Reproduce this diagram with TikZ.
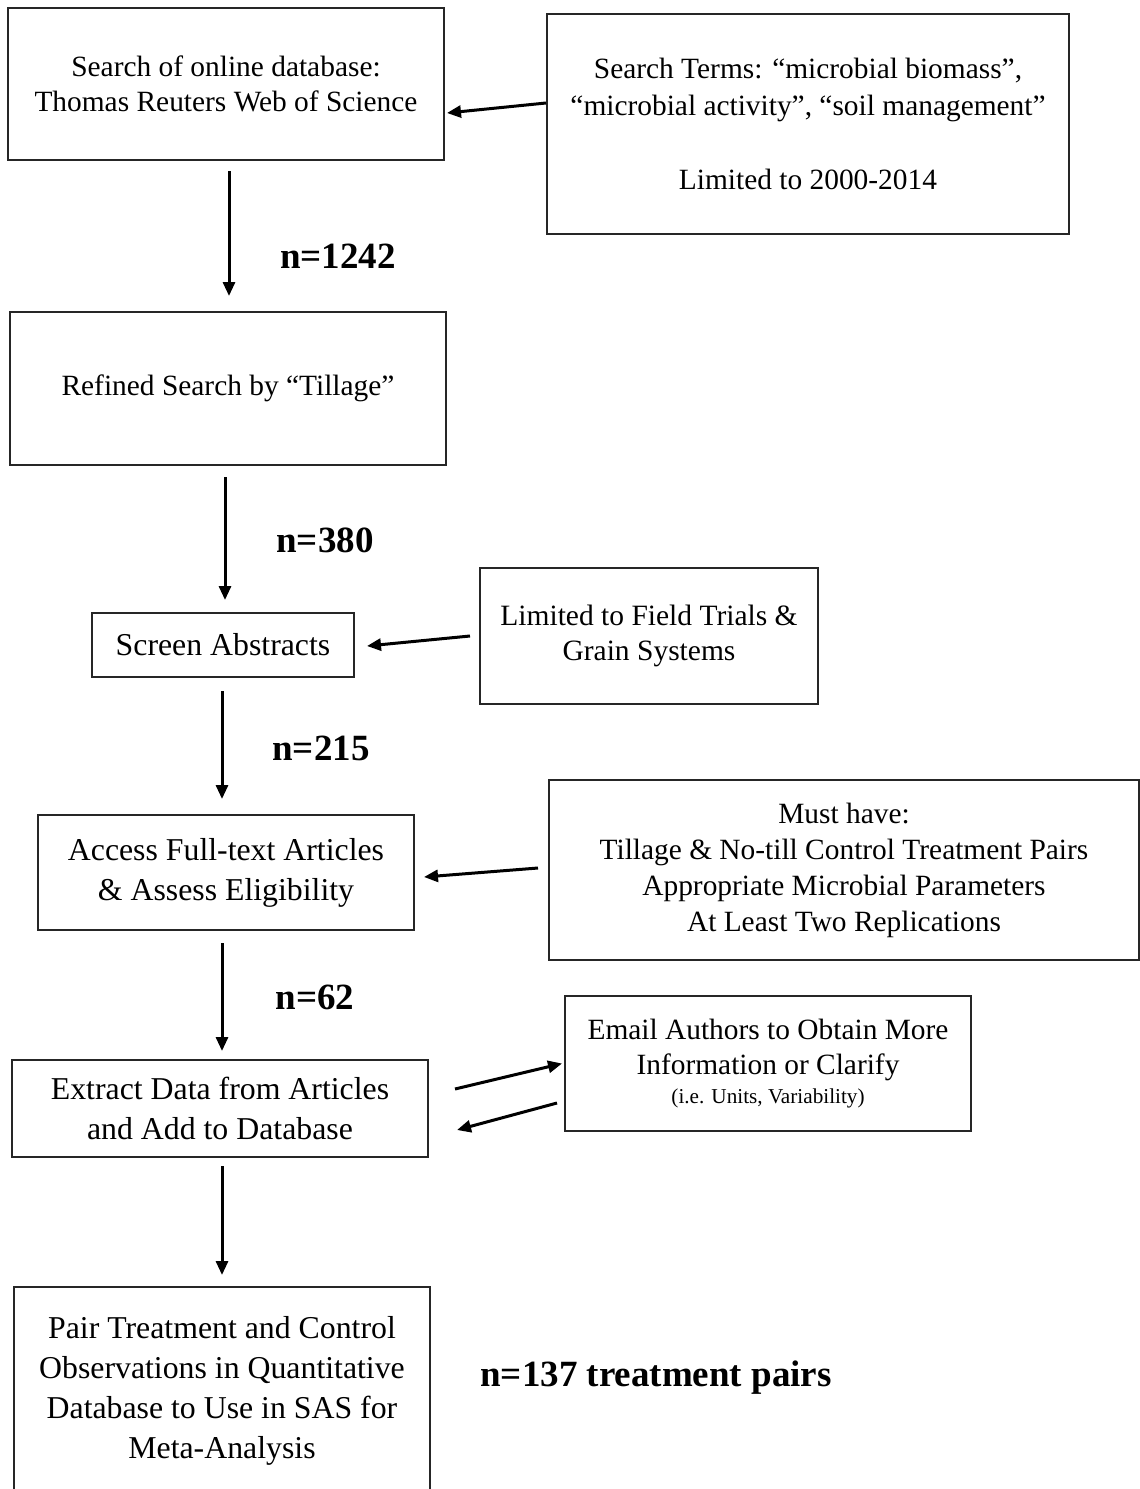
\documentclass[tikz,border=0pt]{standalone}
\usepackage{fontspec}
\setmainfont{Liberation Serif}
\usetikzlibrary{arrows.meta,calc}
\begin{document}
\begin{tikzpicture}[x=0.5pt,y=-0.5pt,
  box/.style={draw=black!85,line width=1pt,align=center,inner sep=0pt},
  ta/.style={font=\fontsize{14.7}{17.5}\selectfont},
  tb/.style={font=\fontsize{15.9}{20}\selectfont},
  arr/.style={line width=1.5pt,-{Triangle[length=7pt,width=6pt]}},
  lbl/.style={font=\fontsize{18.5}{21}\selectfont\bfseries,inner sep=0pt}]
\useasboundingbox (0,0) rectangle (1140,1489);
\clip (0,0) rectangle (1140,1489);
\node[box,ta,minimum width=218pt,minimum height=76pt] (A) at (226,84)
  {Search of online database:\\Thomas Reuters Web of Science};
\node[box,minimum width=261pt,minimum height=110pt,font=\fontsize{14.7}{18.5}\selectfont] (B) at (808,124)
  {Search Terms: ``microbial biomass'',\\``microbial activity'', ``soil management''\\[18.5pt]Limited to 2000-2014};
\node[box,ta,minimum width=218pt,minimum height=76.5pt] (C) at (228,388.5)
  {Refined Search by ``Tillage''};
\node[box,tb,minimum width=131pt,minimum height=32pt] (D) at (223,645)
  {Screen Abstracts};
\node[box,minimum width=169pt,minimum height=68pt,font=\fontsize{14.75}{17.5}\selectfont] (E) at (649,636)
  {Limited to Field Trials \&\\Grain Systems};
\node[box,tb,minimum width=188pt,minimum height=57.5pt] (F) at (226,872.5)
  {Access Full-text Articles\\\& Assess Eligibility};
\node[box,minimum width=295pt,minimum height=90pt,font=\fontsize{14.7}{18}\selectfont] (G) at (844,870)
  {Must have:\\Tillage \& No-till Control Treatment Pairs\\Appropriate Microbial Parameters\\At Least Two Replications};
\node[box,tb,minimum width=208pt,minimum height=48.5pt] (H) at (220,1108.5)
  {Extract Data from Articles\\and Add to Database};
\node[box,minimum width=203pt,minimum height=67.5pt,font=\fontsize{14.7}{17.5}\selectfont] (I) at (768,1063.5)
  {Email Authors to Obtain More\\Information or Clarify\\[-3pt]{\fontsize{10.6}{11}\selectfont (i.e. Units, Variability)}};
\node[box,tb,minimum width=208pt,minimum height=104pt] (J) at (222,1391)
  {Pair Treatment and Control\\Observations in Quantitative\\Database to Use in SAS for\\Meta-Analysis};
\node[lbl] (n1) at (338,256) {n=1242};
\node[lbl] (n2) at (325,540) {n=380};
\node[lbl] (n3) at (321,748) {n=215};
\node[lbl] (n4) at (315,997) {n=62};
\node[lbl] (n5) at (656,1378) {n=137 treatment pairs};
\draw[arr] ([shift={(3,10)}]A.south) -- ([shift={(1,-15)}]C.north);
\draw[arr] ([shift={(-3,11)}]C.south) -- ([shift={(2,-12)}]D.north);
\draw[arr] ([shift={(-1,13)}]D.south) -- ([shift={(-4,-15)}]F.north);
\draw[arr] ([shift={(-4,12)}]F.south) -- ([shift={(2,-8)}]H.north);
\draw[arr] ([shift={(2,8)}]H.south) -- ([shift={(0,-11)}]J.north);
\draw[arr] ([shift={(0,-21)}]B.west) -- ([shift={(2,29)}]A.east);
\draw[arr] ([shift={(-9,0)}]E.west) -- ([shift={(12,1)}]D.east);
\draw[arr] ([shift={(-10,-2)}]G.west) -- ([shift={(9,4.5)}]F.east);
\draw[arr] ([shift={(26,-19.5)}]H.east) -- ([shift={(-2,0)}]I.west);
\draw[arr] ([shift={(-7,39.5)}]I.west) -- ([shift={(28,21.5)}]H.east);
\end{tikzpicture}
\end{document}
